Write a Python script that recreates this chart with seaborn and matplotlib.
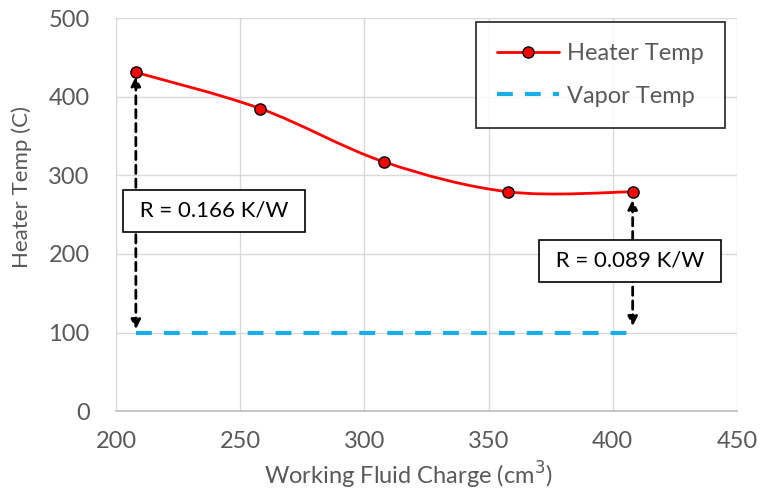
import numpy as np
import pandas as pd
import matplotlib
matplotlib.use("Agg")
import matplotlib.pyplot as plt
from matplotlib.path import Path
from matplotlib.patches import PathPatch
from matplotlib.lines import Line2D
import seaborn as sns

charge = [208, 258, 308, 358, 408]
heater_temp = [431, 385, 317, 279, 279]
vapor_temp = [100, 100, 100, 100, 100]
labels = ["R = 0.166 K/W", "R = 0.089 K/W"]

sns.set_theme(style="whitegrid")
plt.rcParams['font.family'] = ['Lato', 'DejaVu Sans']
txt = "#595959"
red = "#ff0000"
blue = "#1aaee8"
dash = (0, (3.8, 2.9))

fig = plt.figure(figsize=(7.65, 4.9), dpi=100)
ax = fig.add_axes([0.1516, 0.161, 0.8118, 0.802])

df = pd.DataFrame({"charge": charge, "heater": heater_temp, "vapor": vapor_temp})

# smooth heater curve (Excel-style smoothing) via Bezier path
P = np.column_stack([np.array(charge, float), np.array(heater_temp, float)])
verts = [P[0]]; codes = [Path.MOVETO]
n = len(P)
for i in range(n - 1):
    p0 = P[i - 1] if i > 0 else P[i]
    p3 = P[i + 2] if i + 2 < n else P[i + 1]
    c1 = P[i] + (P[i + 1] - p0) / 6
    c2 = P[i + 1] - (p3 - P[i]) / 6
    verts += [c1, c2, P[i + 1]]
    codes += [Path.CURVE4] * 3
ax.add_patch(PathPatch(Path(verts, codes), fill=False, edgecolor=red, lw=2, zorder=3))

sns.lineplot(data=df, x="charge", y="vapor", ax=ax, color=blue, lw=3, linestyle=dash, zorder=3)
sns.scatterplot(data=df, x="charge", y="heater", ax=ax, color=red, edgecolor="#000000",
                linewidth=1.0, s=65, zorder=4)

# arrows
arrowprops = dict(arrowstyle="<|-|>", color="black", lw=2, linestyle=(0, (3, 2)),
                  mutation_scale=14, shrinkA=0, shrinkB=0)
ax.annotate("", xy=(charge[0], heater_temp[0] - 5), xytext=(charge[0], 104), arrowprops=arrowprops, zorder=2)
ax.annotate("", xy=(charge[-1], heater_temp[-1] - 10), xytext=(charge[-1], 108), arrowprops=arrowprops, zorder=2)

box = dict(boxstyle="square,pad=0.5", facecolor="white", edgecolor="black", lw=1.2)
ax.text(239.5, 255, " " + labels[0] + " ", ha="center", va="center", fontsize=16, color="#000000", bbox=box, zorder=5)
ax.text(407, 191, " " + labels[1] + " ", ha="center", va="center", fontsize=16, color="#000000", bbox=box, zorder=5)

ax.set_xlim(200, 450)
ax.set_ylim(0, 500)
ax.set_xticks([200, 250, 300, 350, 400, 450])
ax.set_yticks([0, 100, 200, 300, 400, 500])
ax.grid(True, color="#d9d9d9", lw=1)
for s in ["left", "right", "top"]:
    ax.spines[s].set_visible(False)
ax.spines["bottom"].set_color("#bfbfbf")
ax.tick_params(axis="x", labelsize=17, colors=txt, length=0, pad=14)
ax.tick_params(axis="y", labelsize=17, colors=txt, length=0, pad=19)
xl = ax.set_xlabel("Working Fluid Charge (cm$^3$)", fontsize=17, color=txt)
yl = ax.set_ylabel("Heater Temp (C)", fontsize=16, color=txt)
xl.set_va("center")
yl.set_va("center")
ax.xaxis.set_label_coords(0.47, -0.163)
ax.yaxis.set_label_coords(-0.151, 0.57)

handles = [Line2D([], [], color=red, lw=2, marker="o", markerfacecolor=red,
                  markeredgecolor="black", markersize=8),
           Line2D([], [], color=blue, lw=3, linestyle=dash)]
leg = ax.legend(handles, ["Heater Temp", "Vapor Temp"], loc="upper right",
                bbox_to_anchor=(0.9807, 0.9898), fontsize=17, frameon=True, fancybox=False,
                edgecolor="black", labelspacing=0.9, borderpad=0.9, handlelength=2.6,
                handletextpad=0.35, borderaxespad=0)
leg.get_frame().set_linewidth(1.3)
for t in leg.get_texts():
    t.set_color(txt)

fig.savefig("out.png", dpi=100, facecolor="white")
